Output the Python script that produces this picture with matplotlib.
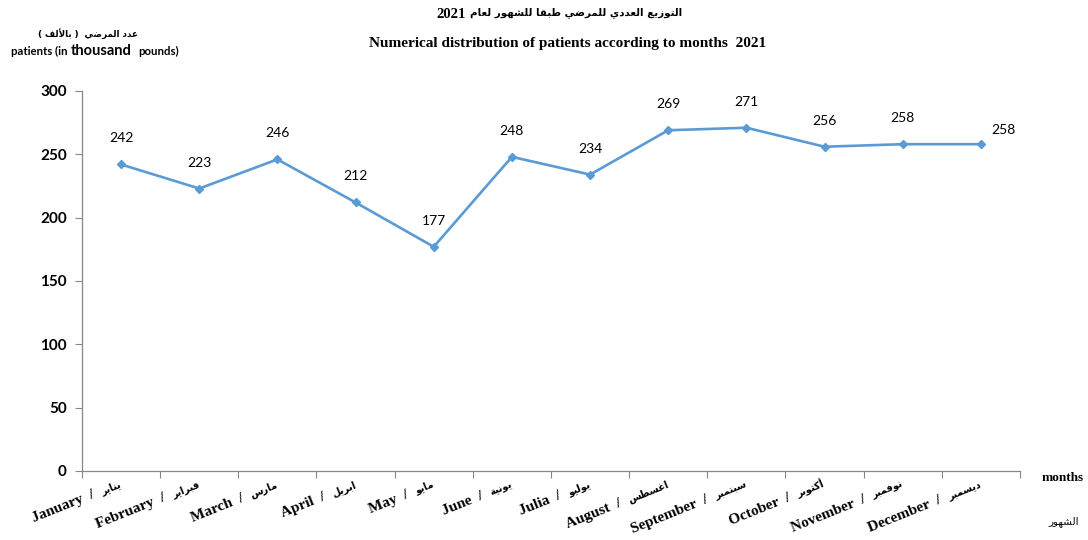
import matplotlib
matplotlib.use('Agg')
import matplotlib.pyplot as plt
import numpy as np

# values
months_en = ['January', 'February', 'March', 'April', 'May', 'June',
             'Julia', 'August', 'September', 'October', 'November', 'December']
months_ar = ['يناير', 'فبراير', 'مارس', 'ابريل', 'مايو', 'يونية',
             'يوليو', 'اغسطس', 'سبتمبر', 'أكتوبر', 'نوفمبر', 'ديسمبر']
patients = [242, 223, 246, 212, 177, 248, 234, 269, 271, 256, 258, 258]
y_ticks = [0, 50, 100, 150, 200, 250, 300]

title_ar = 'التوزيع العددي للمرضي طبقا للشهور لعام'
title_year = '2021'
title_en = 'Numerical distribution of patients according to months  2021'
ylabel_ar = 'عدد المرضي'
ylabel_ar2 = 'بالألف'
xlabel_ar = 'الشهور'

# minimal arabic shaping (presentation forms), matplotlib has no bidi/joining
_dual = {'ئ': 0xFE89, 'ب': 0xFE8F, 'ت': 0xFE95, 'ث': 0xFE99, 'ج': 0xFE9D, 'ح': 0xFEA1,
         'خ': 0xFEA5, 'س': 0xFEB1, 'ش': 0xFEB5, 'ص': 0xFEB9, 'ض': 0xFEBD, 'ط': 0xFEC1,
         'ظ': 0xFEC5, 'ع': 0xFEC9, 'غ': 0xFECD, 'ف': 0xFED1, 'ق': 0xFED5, 'ك': 0xFED9,
         'ل': 0xFEDD, 'م': 0xFEE1, 'ن': 0xFEE5, 'ه': 0xFEE9, 'ي': 0xFEF1}
_right = {'آ': 0xFE81, 'أ': 0xFE83, 'ؤ': 0xFE85, 'إ': 0xFE87, 'ا': 0xFE8D, 'ة': 0xFE93,
          'د': 0xFEA9, 'ذ': 0xFEAB, 'ر': 0xFEAD, 'ز': 0xFEAF, 'و': 0xFEED, 'ى': 0xFEEF}
_lam_alef = {'آ': 0xFEF5, 'أ': 0xFEF7, 'إ': 0xFEF9, 'ا': 0xFEFB}


def shape(text):
    out = []
    prev_joins = False
    i = 0
    while i < len(text):
        c = text[i]
        nxt = text[i + 1] if i + 1 < len(text) else ''
        if c == 'ل' and nxt in _lam_alef:
            out.append(chr(_lam_alef[nxt] + (1 if prev_joins else 0)))
            prev_joins = False
            i += 2
            continue
        if c in _dual:
            next_ok = nxt in _dual or nxt in _right
            form = {(False, False): 0, (True, False): 1, (False, True): 2, (True, True): 3}[(prev_joins, next_ok)]
            out.append(chr(_dual[c] + form))
            prev_joins = True
        elif c in _right:
            out.append(chr(_right[c] + (1 if prev_joins else 0)))
            prev_joins = False
        else:
            out.append(c)
            prev_joins = False
        i += 1
    return ''.join(out)[::-1]


blue = '#5B9BD5'
axis_grey = '#868686'

fig = plt.figure(figsize=(10.88, 5.4), dpi=100)
ax = fig.add_axes([0.0754, 0.1278, 0.862, 0.7037])

x = np.arange(len(patients))
ax.plot(x, patients, color=blue, lw=1.9, marker='D', ms=4.5, zorder=3)

for i, v in enumerate(patients):
    if i == len(patients) - 1:
        off = (23, 14)
    else:
        off = (0, 26)
    ax.annotate(str(v), (x[i], v), xytext=off, textcoords='offset pixels',
                ha='center', va='center', fontsize=10, family='Lato', color='black')

ax.set_xlim(-0.5, len(patients) - 0.5)
ax.set_ylim(0, 300)
ax.set_yticks(y_ticks)
ax.set_yticklabels([str(t) for t in y_ticks], fontsize=11, fontweight='bold', family='Lato')

ax.set_xticks(np.arange(len(patients) + 1) - 0.5)
ax.set_xticklabels([])
ax.tick_params(axis='x', which='major', length=5, color=axis_grey, direction='out')
ax.tick_params(axis='y', length=5, color=axis_grey, direction='out', pad=6)

for s in ['top', 'right']:
    ax.spines[s].set_visible(False)
for s in ['left', 'bottom']:
    ax.spines[s].set_color(axis_grey)
    ax.spines[s].set_linewidth(0.9)

# month labels: english part (serif) + arabic part (smaller), rotated together
rot = 22
renderer = fig.canvas.get_renderer()
ca, sa = np.cos(np.radians(rot)), np.sin(np.radians(rot))
for i, (en, ar) in enumerate(zip(months_en, months_ar)):
    ar_kw = dict(fontsize=7, fontweight='bold', family='DejaVu Sans')
    tmp = fig.text(0, 0, shape(ar), **ar_kw)
    w = tmp.get_window_extent(renderer).width
    tmp.remove()
    base = (1, -16)
    ax.annotate(shape(ar), (x[i], 0), xycoords=('data', 'axes fraction'),
                xytext=base, textcoords='offset pixels', rotation=rot,
                rotation_mode='anchor', ha='right', va='baseline', **ar_kw)
    ax.annotate(en + '  /  ', (x[i], 0), xycoords=('data', 'axes fraction'),
                xytext=(base[0] - w * ca, base[1] - w * sa), textcoords='offset pixels',
                rotation=rot, rotation_mode='anchor', ha='right', va='baseline',
                fontsize=11, fontweight='bold', family='Liberation Serif')

# titles
fig.text(0.428, 0.974, title_year, ha='right', va='center', fontsize=10.5,
         fontweight='bold', family='Liberation Serif')
fig.text(0.432, 0.976, shape(title_ar), ha='left', va='center', fontsize=7.4,
         fontweight='bold', family='DejaVu Sans')
fig.text(0.522, 0.920, title_en, ha='center', va='center', fontsize=11,
         fontweight='bold', family='Liberation Serif')

# y axis label
fig.text(0.081, 0.938, '( ' + shape(ylabel_ar2) + ' )  ' + shape(ylabel_ar), ha='center', va='center',
         fontsize=6.3, fontweight='bold', family='DejaVu Sans')
fig.text(0.010, 0.905, 'patients (in', ha='left', va='center', fontsize=8.2,
         fontweight='bold', family='Lato')
fig.text(0.065, 0.905, 'thousand', ha='left', va='center', fontsize=10.5,
         fontweight='bold', family='Lato')
fig.text(0.127, 0.905, 'pounds)', ha='left', va='center', fontsize=8.2,
         fontweight='bold', family='Lato')

# x axis label
fig.text(0.977, 0.115, 'months', ha='center', va='center', fontsize=9.5,
         fontweight='bold', family='Liberation Serif')
fig.text(0.978, 0.035, shape(xlabel_ar), ha='center', va='center', fontsize=7.5,
         family='DejaVu Sans')

fig.savefig('out.png', dpi=100)
